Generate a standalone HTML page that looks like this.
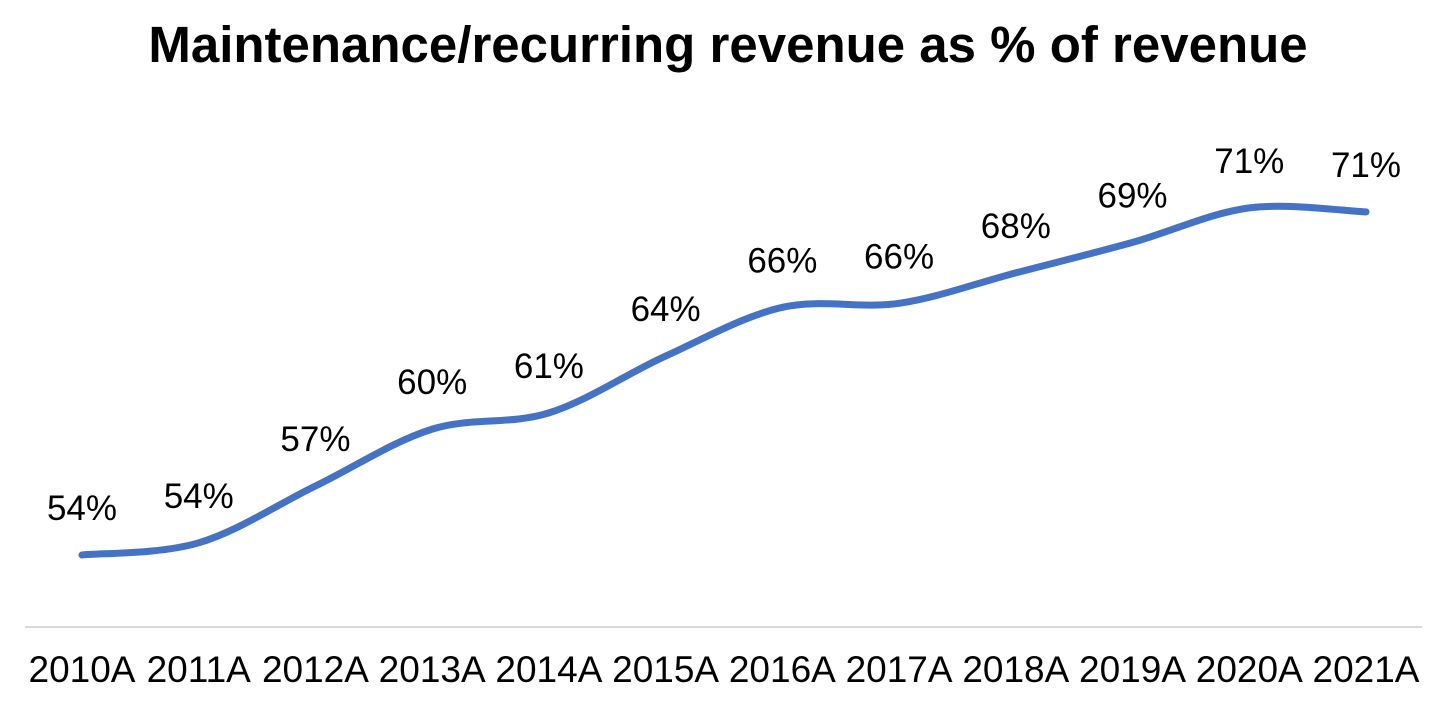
<!DOCTYPE html>
<html><head><meta charset="utf-8"><style>
html,body{margin:0;padding:0;background:#fff;}
svg{display:block;font-family:"Liberation Sans",Arial,sans-serif;}
</style></head><body>
<svg id="chart" width="1456" height="709" viewBox="0 0 1456 709">
<text x="728" y="62" text-anchor="middle" font-size="51" font-weight="bold" fill="#000">Maintenance/recurring revenue as % of revenue</text>
<line x1="25" y1="627" x2="1422" y2="627" stroke="#d9d9d9" stroke-width="2"/>
<g id="xlabels"></g>
<path id="series" fill="none" stroke="#4472C4" stroke-width="7" stroke-linecap="round"/>
<g id="dlabels"></g>
</svg>
<script>
const categories = ["2010A","2011A","2012A","2013A","2014A","2015A","2016A","2017A","2018A","2019A","2020A","2021A"];
const values = [54.0,54.6,57.4,60.2,61.0,63.8,66.2,66.4,67.9,69.4,71.1,70.9];
const valueLabels = ["54%","54%","57%","60%","61%","64%","66%","66%","68%","69%","71%","71%"];

const ns="http://www.w3.org/2000/svg";
function xScale(i){return 82+i*(1366-82)/(categories.length-1);}
function yScale(v){return 555-(v-54)*20.3;}
const pts=values.map((v,i)=>[xScale(i),yScale(v)]);
let d="M"+pts[0][0]+","+pts[0][1];
for(let i=0;i<pts.length-1;i++){
  const p0=pts[Math.max(i-1,0)],p1=pts[i],p2=pts[i+1],p3=pts[Math.min(i+2,pts.length-1)];
  const t=6;
  const c1=[p1[0]+(p2[0]-p0[0])/t,p1[1]+(p2[1]-p0[1])/t];
  const c2=[p2[0]-(p3[0]-p1[0])/t,p2[1]-(p3[1]-p1[1])/t];
  d+=` C${c1[0]},${c1[1]} ${c2[0]},${c2[1]} ${p2[0]},${p2[1]}`;
}
document.getElementById("series").setAttribute("d",d);
const xl=document.getElementById("xlabels"),dl=document.getElementById("dlabels");
categories.forEach((c,i)=>{
  const t=document.createElementNS(ns,"text");
  t.setAttribute("x",xScale(i));t.setAttribute("y",682);
  t.setAttribute("text-anchor","middle");t.setAttribute("font-size","37");
  t.textContent=c;
  
  
  xl.appendChild(t);
  const l=document.createElementNS(ns,"text");
  l.setAttribute("x",xScale(i));l.setAttribute("y",yScale(values[i])-35);
  l.setAttribute("text-anchor","middle");l.setAttribute("font-size","35");
  l.textContent=valueLabels[i];
  
  
  dl.appendChild(l);
});
</script>
</body></html>
